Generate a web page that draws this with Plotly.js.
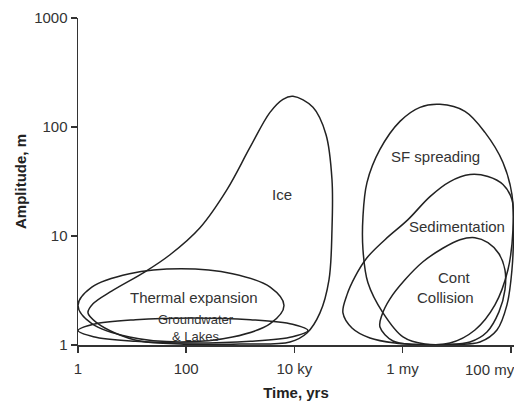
<!DOCTYPE html>
<html>
<head>
<meta charset="utf-8">
<script src="https://cdn.plot.ly/plotly-3.0.1.min.js"></script>
<style>html,body{margin:0;padding:0;background:#fff;}#chart{width:514px;height:401px;}</style>
</head>
<body>
<div id="chart"></div>
<script>
// Tick labels (the last x label is placed as a shifted annotation, as in the reference)
const xTickVals = [1, 100, 1e4, 1e6, 1e8];
const xTickText = ['1', '100', '10 ky', '1 my', ''];
const lastXTickText = '100 my';
const yTickVals = [1, 10, 100, 1000];
const yTickText = ['1', '10', '100', '1000'];

// Outlines (time in yrs, amplitude in m)
const iceX = [9419, 22070, 38370, 49550, 49550, 43630, 29720, 17100, 8294, 986, 76.8, 14.0, 4.83, 2.245, 1.530, 1.893, 4.25, 17.31, 50.2, 179.9, 567.7, 1511, 3540, 6155];
const iceY = [191.2, 151.5, 85.5, 32.96, 11.43, 3.963, 1.970, 1.289, 1.066, 1.021, 1.021, 1.088, 1.289, 1.594, 1.970, 2.384, 3.139, 4.695, 6.73, 11.92, 26.67, 64.9, 136.2, 179.5];

const thermalX = [6427, 3572, 717.8, 80.2, 8.95, 1.80, 1.0, 1.80, 8.95, 80.2, 717.8, 3572];
const thermalY = [2.309, 3.399, 4.510, 5.003, 4.510, 3.399, 2.309, 1.569, 1.182, 1.066, 1.182, 1.569];

const groundX = [17830, 9268, 1544, 133.6, 11.56, 1.926, 1.0, 1.926, 11.56, 133.6, 1544, 9268];
const groundY = [1.359, 1.552, 1.709, 1.772, 1.709, 1.552, 1.359, 1.191, 1.082, 1.043, 1.082, 1.191];

const sfX = [4.91e6, 1.423e7, 3.334e7, 7.18e7, 1.052e8, 1.099e8, 8.87e7, 5.10e7, 2.178e7, 7.52e6, 2.594e6, 1.017e6, 4.34e5, 2.29e5, 1.854e5, 1.854e5, 2.198e5, 3.82e5, 8.95e5, 2.098e6];
const sfY = [161.4, 139.2, 89.2, 47.3, 23.99, 11.43, 4.898, 2.333, 1.374, 1.043, 1.021, 1.185, 1.970, 3.718, 7.48, 15.05, 30.92, 62.2, 112.6, 151.5];

const sedX = [7.907e4, 9.38e4, 1.318e5, 2.198e5, 4.73e5, 1.259e6, 3.21e6, 7.52e6, 1.762e7, 3.79e7, 7.18e7, 1.052e8, 1.122e8, 1.052e8, 8.51e7, 5.56e7, 2.697e7, 9.31e6, 2.098e6, 7.24e5, 2.496e5, 1.161e5];
const sedY = [1.970, 2.884, 4.222, 6.316, 9.25, 14.13, 22.99, 31.59, 36.64, 35.12, 29.64, 21.58, 11.43, 4.898, 2.333, 1.374, 1.066, 1.01, 1.01, 1.043, 1.160, 1.434];

const contX = [3.82e5, 4.16e5, 5.85e5, 1.107e6, 2.383e6, 5.35e6, 1.151e7, 2.178e7, 3.79e7, 6.05e7, 7.81e7, 7.81e7, 6.05e7, 3.63e7, 1.762e7, 6.08e6, 1.694e6, 6.65e5];
const contY = [1.464, 1.888, 2.650, 3.963, 5.80, 7.64, 9.25, 9.65, 8.68, 6.87, 4.898, 3.206, 2.012, 1.317, 1.066, 1.01, 1.01, 1.088];

// Region labels
const labelText = ['Ice', 'SF spreading', 'Sedimentation', 'Cont', 'Collision', 'Thermal expansion', 'Groundwater<br>&amp; Lakes'];
const labelX = [5900, 4.0e6, 1.0e7, 9.3e6, 6.1e6, 140, 152];
const labelY = [24, 53.7, 12.2, 4.13, 2.71, 2.71, 1.434];
const labelSize = [15, 15, 15, 15, 15, 15, 13];

const shapes = [
  [iceX, iceY], [thermalX, thermalY], [groundX, groundY],
  [sfX, sfY], [sedX, sedY], [contX, contY]
];

const traces = shapes.map(([xs, ys]) => ({
  type: 'scatter', mode: 'lines',
  x: xs.concat([xs[0]]), y: ys.concat([ys[0]]),
  line: {color: '#222', width: 1.5, shape: 'spline', smoothing: 1},
  hoverinfo: 'skip', showlegend: false
}));

const FONT = 'Liberation Sans, Arial, Helvetica, sans-serif';
const annotations = labelText.map((t, i) => ({
  text: t, x: Math.log10(labelX[i]), y: Math.log10(labelY[i]),
  xref: 'x', yref: 'y', showarrow: false, align: 'center',
  font: {family: FONT, size: labelSize[i], color: '#333'}
}));
annotations.push({
  text: lastXTickText, x: Math.log10(xTickVals[4]), y: 0,
  xref: 'x', yref: 'paper', showarrow: false,
  xanchor: 'center', yanchor: 'middle', xshift: -21, yshift: -24,
  font: {family: FONT, size: 15, color: '#333'}
});

const axisCommon = {
  type: 'log', showgrid: false, zeroline: false, showline: true,
  linecolor: '#333', linewidth: 1.5, ticks: 'outside', ticklen: 6,
  tickwidth: 1.5, tickcolor: '#333', automargin: false,
  ticklabeloverflow: 'allow',
  tickfont: {family: FONT, size: 15, color: '#333'}
};

const layout = {
  width: 514, height: 401,
  margin: {l: 78, r: 0, t: 18, b: 56},
  paper_bgcolor: '#fff', plot_bgcolor: '#fff',
  font: {family: FONT, color: '#333'},
  showlegend: false,
  xaxis: Object.assign({}, axisCommon, {
    range: [0, 8.06], tickvals: xTickVals, ticktext: xTickText,
    ticklabelstandoff: 3,
    title: {text: '<b>Time, yrs</b>', font: {family: FONT, size: 15, color: '#222'}, standoff: 14}
  }),
  yaxis: Object.assign({}, axisCommon, {
    range: [0, 3], tickvals: yTickVals, ticktext: yTickText,
    title: {text: '<b>Amplitude, m</b>', font: {family: FONT, size: 15, color: '#222'}, standoff: 4}
  }),
  annotations: annotations
};

Plotly.newPlot('chart', traces, layout, {staticPlot: true, displayModeBar: false});
</script>
</body>
</html>
